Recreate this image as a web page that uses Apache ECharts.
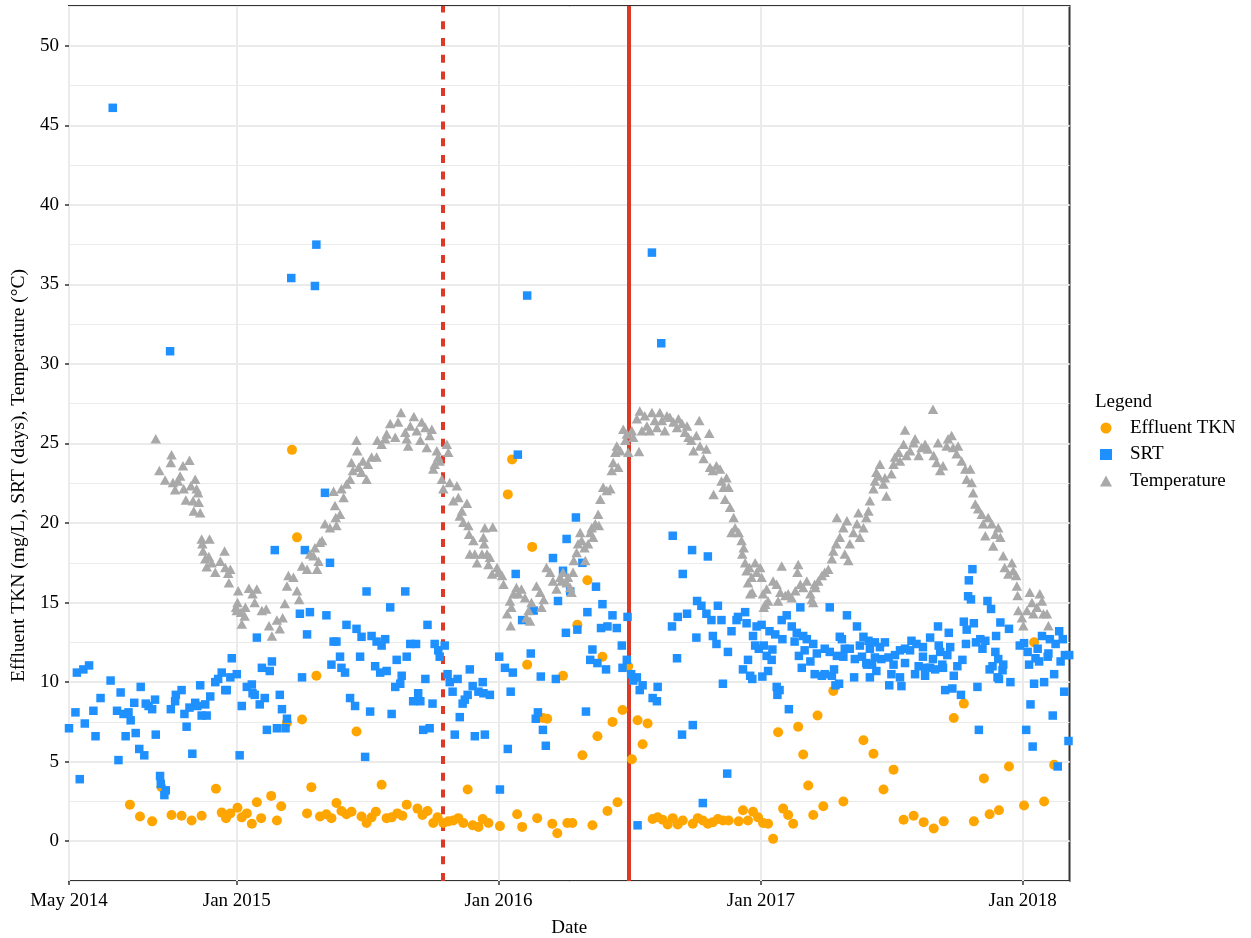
<!DOCTYPE html>
<html><head><meta charset="utf-8">
<script src="https://cdn.jsdelivr.net/npm/echarts@6/dist/echarts.min.js"></script>
<style>html,body{margin:0;padding:0;background:#fff}#chart{width:1251px;height:938px}</style>
</head><body><div id="chart"></div>
<script>
// ---- data ----
const startDate = '2014-05-12';          // first sampling day (left edge of the axis)
const endDay = 1395.4;                   // last day on the axis, counted from startDate
const tickDates = ['2014-05-12', '2015-01-01', '2016-01-01', '2017-01-01', '2018-01-01'];
const yTicks = [0, 5, 10, 15, 20, 25, 30, 35, 40, 45, 50];
const eventDates = ['2015-10-15', '2016-07-01'];
const seriesNames = ['Effluent TKN', 'SRT', 'Temperature'];

// days since startDate, and values
const tknDays = [85,99,116,129,143,157,171,185,205,213,219,225,235,241,248,255,262,268,282,290,296,304,311,318,325,332,338,345,350,359,366,373,380,387,394,401,408,415,422,428,436,443,450,458,465,471,486,493,500,508,514,522,529,536,543,550,556,563,571,577,585,601,612,618,625,632,639,646,653,661,667,674,681,689,695,702,709,716,723,730,737,744,751,758,765,772,780,785,793,800,807,814,821,828,835,842,849,856,870,877,884,891,898,905,912,920,934,940,947,954,961,968,975,982,989,996,1003,1010,1017,1024,1031,1038,1044,1052,1066,1080,1108,1122,1136,1150,1164,1178,1192,1206,1220,1234,1248,1262,1276,1284,1297,1311,1332,1346,1360,1374];
const tknValues = [2.3,1.55,1.25,3.4,1.65,1.6,1.3,1.6,3.3,1.8,1.45,1.75,2.1,1.5,1.75,1.1,2.45,1.45,2.85,1.3,2.2,7.45,24.6,19.1,7.65,1.75,3.4,10.4,1.55,1.7,1.45,2.4,1.9,1.7,1.85,6.9,1.55,1.15,1.5,1.85,3.55,1.45,1.5,1.75,1.6,2.3,2.05,1.65,1.9,1.15,1.5,1.15,1.25,1.3,1.45,1.15,3.25,1.0,0.9,1.4,1.15,0.95,21.8,24.0,1.7,0.9,11.1,18.5,1.45,7.75,7.7,1.1,0.5,10.4,1.15,1.15,13.6,5.4,16.4,1.0,6.6,11.6,1.9,7.5,2.45,8.25,11.0,5.15,7.6,6.1,7.4,1.4,1.5,1.35,1.05,1.45,1.05,1.3,1.1,1.45,1.3,1.1,1.2,1.4,1.3,1.3,1.25,1.95,1.3,1.85,1.5,1.15,1.1,0.15,6.85,2.05,1.65,1.1,7.2,5.45,3.5,1.65,7.9,2.2,9.45,2.5,6.35,5.5,3.25,4.5,1.35,1.6,1.2,0.8,1.25,7.75,8.65,1.25,3.95,1.7,1.95,4.7,2.25,12.5,2.5,4.8];

const srtDays = [0,9,11,15,20,22,28,34,37,44,58,61,67,69,72,76,79,83,86,91,93,98,100,105,107,111,116,120,121,127,128,133,135,141,142,148,149,157,161,164,168,172,176,179,183,185,190,192,197,204,208,213,218,220,225,227,234,238,241,248,255,256,259,262,266,269,273,276,280,283,287,290,294,297,302,304,310,322,325,329,332,336,343,345,357,359,364,366,369,373,378,380,385,387,392,399,401,406,408,413,415,420,422,427,429,434,436,441,443,448,450,455,457,462,464,469,471,476,480,484,487,490,494,497,500,503,507,510,515,517,524,528,531,535,538,542,545,549,552,556,559,563,566,571,577,578,580,587,600,601,608,612,616,619,623,626,632,639,644,648,651,654,658,661,665,675,679,682,689,693,694,699,707,709,716,721,723,727,730,735,737,742,744,749,751,758,764,771,772,778,779,784,787,792,793,796,800,813,814,820,821,826,841,842,848,849,855,856,862,869,870,875,876,882,884,889,891,896,898,903,905,910,912,918,919,924,931,933,940,943,945,947,950,953,954,957,959,962,966,967,969,973,975,977,980,981,985,987,988,991,994,995,1001,1004,1008,1012,1015,1018,1020,1022,1024,1026,1029,1034,1038,1040,1043,1050,1054,1054,1061,1061,1064,1067,1069,1071,1074,1075,1078,1080,1082,1085,1089,1095,1096,1099,1103,1106,1108,1112,1113,1115,1117,1117,1120,1124,1124,1126,1131,1133,1138,1143,1144,1147,1150,1152,1159,1159,1161,1166,1166,1173,1175,1180,1182,1185,1191,1191,1194,1194,1201,1201,1205,1208,1212,1213,1215,1218,1219,1222,1225,1227,1229,1232,1234,1239,1244,1246,1248,1251,1252,1254,1255,1258,1260,1262,1265,1267,1269,1271,1274,1278,1281,1284,1286,1288,1292,1293,1295,1296,1297,1299,1302,1303,1311,1313,1326,1332,1335,1337,1339,1341,1344,1346,1348,1351,1353,1357,1360,1365,1366,1368,1372,1374,1376,1379,1381,1383,1386,1388,1389,1394,1395];
const srtValues = [7.1,8.1,10.6,3.9,10.8,7.4,11.05,8.2,6.6,9.0,10.1,46.1,8.2,5.1,9.35,8.0,6.6,8.1,7.6,8.7,6.8,5.8,9.7,5.4,8.65,8.5,8.3,8.9,6.7,4.1,3.6,2.9,3.2,30.8,8.3,8.8,9.2,9.5,8.0,7.2,8.4,5.5,8.7,8.5,9.8,7.9,8.6,7.9,9.1,10.0,10.2,10.6,9.5,9.5,10.3,11.5,10.5,5.4,8.5,9.7,9.85,9.3,9.2,12.8,8.6,10.9,9.0,7.0,10.7,11.3,18.3,7.1,9.2,8.3,7.1,7.7,35.4,14.3,10.3,18.3,13.0,14.4,34.9,37.5,21.9,14.2,17.5,11.1,12.55,12.55,11.6,10.9,10.6,13.6,9.0,8.5,13.35,11.6,12.85,5.3,15.7,8.15,12.9,11.0,12.55,10.6,12.3,12.7,10.7,14.7,8.0,9.7,11.4,9.9,10.4,15.7,11.6,12.4,8.8,12.4,9.3,8.8,7.0,10.2,13.6,7.1,8.65,12.4,12.0,11.6,12.3,10.5,10.0,9.4,6.7,10.2,7.8,8.65,8.9,9.2,10.8,9.75,6.6,9.4,10.0,9.3,6.7,9.2,11.6,3.25,10.9,5.8,9.4,10.6,16.8,24.3,13.9,34.3,11.8,14.5,7.7,8.1,10.35,7.0,6.0,17.8,10.2,15.1,17.0,13.1,19.0,15.7,20.35,13.3,17.5,8.15,14.4,11.4,12.05,16.0,11.2,13.4,14.9,10.8,13.5,14.2,13.4,12.3,10.9,11.4,14.1,10.5,10.1,10.3,1.0,9.5,9.8,37.0,9.0,8.8,9.7,31.3,13.5,19.2,11.5,14.1,6.7,16.8,14.3,18.3,7.3,12.8,15.1,14.8,2.4,14.3,17.9,13.9,12.9,12.4,14.8,13.9,9.9,4.25,11.9,13.2,13.9,14.1,10.8,14.4,13.7,11.4,10.4,10.2,12.9,12.3,13.5,12.1,13.6,10.35,12.3,11.65,10.7,13.2,11.4,12.05,13.0,9.7,9.2,9.5,13.9,12.7,14.2,8.3,13.5,12.55,13.1,11.65,14.7,10.9,12.9,12.0,12.7,11.3,12.4,10.5,11.8,10.4,12.1,10.5,14.7,11.9,10.4,10.8,9.8,11.65,9.9,12.85,12.7,11.6,12.1,14.2,12.1,10.3,11.45,13.5,12.3,11.6,12.85,11.2,11.1,12.6,12.1,10.3,11.1,12.5,11.55,10.7,12.2,11.45,12.5,11.55,9.8,10.5,11.1,11.7,12.0,10.3,9.75,12.1,11.2,12.0,12.6,10.5,12.4,11.0,12.2,11.6,10.9,10.4,12.8,10.9,11.45,10.8,13.5,12.3,11.9,11.1,10.9,9.5,11.7,13.1,12.2,9.6,10.4,11.0,9.2,11.4,13.8,12.4,13.3,15.4,16.4,15.2,17.1,13.7,12.5,9.7,7.0,12.7,12.1,12.6,15.1,10.8,14.6,11.0,11.9,12.9,10.3,11.45,10.2,13.75,10.75,11.1,13.35,10.0,12.3,12.45,7.0,11.9,11.1,8.6,5.95,9.9,11.5,12.1,11.3,12.9,10.0,11.6,11.8,12.7,7.9,10.5,12.4,4.7,13.2,11.3,12.7,9.4,11.7,6.3,11.7];

const tempDays = [121,126,134,142,143,145,148,152,155,159,160,163,168,170,173,174,176,178,180,181,183,185,186,187,190,192,195,196,199,204,211,217,218,222,223,225,233,234,235,236,240,241,245,246,251,256,259,262,269,275,279,283,290,294,298,301,304,306,313,318,321,325,332,336,341,343,346,348,350,353,357,364,369,371,372,373,378,380,383,387,392,394,396,401,402,404,408,410,415,417,422,429,430,436,441,443,448,455,459,463,469,471,473,476,481,485,490,492,497,499,503,506,508,510,513,515,517,520,522,527,529,531,536,541,543,545,548,550,555,557,558,559,564,566,569,576,578,579,580,583,585,587,590,591,597,599,604,606,611,615,616,617,620,624,627,631,636,638,641,643,645,652,657,659,662,666,671,675,680,685,687,689,694,696,699,701,703,704,708,710,713,715,719,720,724,727,729,731,734,738,739,741,745,750,755,757,759,762,764,766,769,773,776,778,780,785,787,792,795,796,799,803,806,810,813,817,820,824,827,831,834,838,843,848,850,855,859,862,864,868,871,875,879,880,885,889,893,894,898,899,903,908,910,913,915,917,920,922,924,927,929,934,938,939,941,943,945,947,949,950,952,953,957,959,964,966,968,969,971,973,975,982,987,989,992,994,999,1003,1008,1013,1016,1017,1020,1024,1029,1034,1036,1038,1040,1041,1045,1050,1054,1059,1064,1066,1070,1071,1075,1080,1082,1085,1087,1089,1094,1099,1101,1103,1108,1112,1115,1117,1122,1124,1126,1129,1131,1136,1138,1140,1147,1150,1152,1157,1159,1164,1166,1168,1173,1178,1180,1185,1189,1194,1198,1205,1206,1210,1212,1215,1219,1224,1226,1231,1233,1238,1240,1245,1250,1252,1257,1259,1261,1264,1268,1273,1275,1278,1282,1287,1289,1292,1296,1299,1303,1305,1310,1315,1317,1321,1322,1323,1324,1329,1331,1336,1340,1343,1345,1350,1354,1357,1359,1364,1366];
const tempValues = [25.3,23.3,22.7,23.8,24.3,22.55,22.1,22.65,22.95,23.6,22.15,21.45,23.95,22.35,21.4,20.75,22.75,22.15,21.9,21.3,20.65,19.0,18.7,18.25,17.75,17.25,17.9,19.0,17.5,16.9,17.6,18.25,17.2,16.85,16.25,17.1,14.7,14.5,15.0,15.75,14.4,13.65,14.15,14.7,15.9,15.55,15.0,15.85,14.5,14.6,13.55,12.9,13.9,13.35,14.05,14.95,16.05,16.7,16.6,15.75,15.2,17.3,17.1,18.05,17.95,18.45,17.1,17.6,18.8,18.9,19.95,19.7,22.0,21.1,20.35,19.85,20.55,22.15,21.6,22.45,22.75,23.8,23.3,25.2,24.55,23.5,23.2,23.9,22.75,23.7,24.15,24.15,25.2,24.95,25.3,25.6,26.25,25.4,26.35,26.95,25.7,25.3,24.85,26.1,26.7,25.8,25.2,26.35,26.0,24.75,25.5,25.9,23.4,23.7,24.55,24.15,23.9,22.75,22.15,24.95,24.45,22.55,21.4,22.35,21.6,20.45,20.75,20.05,21.25,19.85,19.3,18.05,18.9,18.05,17.5,18.05,19.1,18.7,19.7,18.05,17.4,17.85,16.8,19.75,17.2,16.9,16.7,16.15,14.3,15.1,13.55,14.7,15.55,15.95,15.55,15.85,15.3,14.05,14.5,13.85,15.0,16.05,15.65,14.7,15.2,17.2,16.9,16.35,15.85,16.6,16.35,16.9,16.25,16.6,15.95,15.65,16.9,17.65,18.15,18.7,19.4,18.9,18.45,17.65,18.7,19.4,19.7,19.1,19.95,20.55,19.85,21.5,22.25,22.05,22.15,23.3,23.8,24.45,24.85,23.5,24.55,25.9,25.2,25.6,24.45,25.8,25.4,26.55,24.5,27.05,25.8,26.75,26.1,25.8,26.95,26.45,26.0,26.95,26.45,25.8,26.75,26.65,26.35,26.0,26.55,26.25,25.7,26.1,25.4,25.2,24.55,25.5,26.45,24.85,24.05,24.65,25.65,23.5,23.3,21.8,23.6,23.4,22.65,22.25,21.5,22.85,22.25,21.0,19.4,20.35,19.7,19.4,18.9,18.05,18.45,17.5,17.0,16.25,17.2,15.55,16.6,15.65,17.5,16.9,17.2,16.6,15.55,14.7,14.9,15.85,15.1,16.35,16.15,15.1,15.65,17.3,15.45,15.55,15.3,15.75,16.9,17.4,16.15,15.95,16.35,15.55,15.2,15.0,16.15,15.95,16.35,16.7,16.9,17.1,17.75,18.25,18.7,20.35,19.1,19.7,18.05,20.15,17.65,18.7,19.4,19.95,20.65,19.1,19.7,20.35,20.75,21.4,22.15,22.65,23.2,22.95,23.7,22.45,22.85,21.7,23.1,23.7,24.15,24.45,23.9,24.95,25.85,24.25,24.55,25.05,25.3,24.25,24.75,24.95,24.65,27.15,24.25,23.8,25.05,23.3,23.6,24.85,25.3,25.5,24.75,24.35,24.85,23.9,23.4,22.75,23.4,22.55,21.9,21.2,20.9,20.55,19.95,19.2,20.35,19.95,18.55,19.3,19.7,19.1,17.95,17.2,16.8,17.5,17.0,16.7,16.05,15.45,14.5,14.05,13.55,14.5,15.65,15.0,14.3,14.7,15.55,15.1,14.3,14.3,13.55];

// ---- chart ----
const DAY = 86400000;
const t0 = Date.parse(startDate);
const toPairs = (days, vals) => days.map((d, i) => [t0 + d * DAY, vals[i]]);
const tickTs = tickDates.map(d => Date.parse(d));
const eventTs = eventDates.map(d => Date.parse(d));
const MONTHS = ['Jan','Feb','Mar','Apr','May','Jun','Jul','Aug','Sep','Oct','Nov','Dec'];
const FONT = '"Liberation Serif", "DejaVu Serif", serif';
const RED = '#DC3A27';
const txt = {fontFamily: FONT, fontSize: 19, color: '#000'};

const chart = echarts.init(document.getElementById('chart'), null, {renderer: 'canvas'});
chart.setOption({
  animation: false,
  textStyle: {fontFamily: FONT},
  title: {text: 'Legend', left: 1095, top: 393, padding: 0,
    textStyle: Object.assign({fontWeight: 'normal'}, txt)},
  legend: {orient: 'vertical', left: 1100, top: 418, padding: 0,
    itemWidth: 12, itemHeight: 11, itemGap: 6.5, data: seriesNames,
    textStyle: Object.assign({lineHeight: 20, padding: [0, 0, 0, 13]}, txt), selectedMode: false},
  grid: {left: 69, right: 181.5, top: 6, bottom: 57, show: true, borderColor: '#333', borderWidth: 2,
    outerBoundsMode: 'none', containLabel: false},
  xAxis: {
    type: 'value', min: t0, max: t0 + endDay * DAY,
    axisLine: {show: false, onZero: false},
    axisTick: {show: true, length: 4, customValues: tickTs, lineStyle: {color: '#333', width: 1.5}},
    axisLabel: Object.assign({customValues: tickTs, margin: 11, hideOverlap: false,
      formatter: v => { const d = new Date(v); return MONTHS[d.getUTCMonth()] + ' ' + d.getUTCFullYear(); }}, txt),
    splitLine: {show: true, lineStyle: {color: '#ebebeb', width: 2}},
    name: 'Date', nameLocation: 'middle', nameGap: 38, nameTextStyle: txt
  },
  yAxis: [{
    type: 'value', min: -2.5, max: 52.5,
    axisLine: {show: false, onZero: false},
    axisTick: {show: true, length: 4, customValues: yTicks, lineStyle: {color: '#333', width: 1.5}},
    axisLabel: Object.assign({customValues: yTicks, margin: 10}, txt),
    splitLine: {show: true, lineStyle: {color: '#ebebeb', width: 2}},
    name: 'Effluent TKN (mg/L), SRT (days), Temperature (°C)',
    nameLocation: 'middle', nameGap: 40, nameRotate: 90,
    nameTextStyle: Object.assign({padding: [0, 64, 0, 0]}, txt, {fontSize: 19.5})
  }, {
    type: 'value', min: -2.5, max: 52.5, interval: 2.5, position: 'left',
    axisLine: {show: false, onZero: false}, axisTick: {show: false}, axisLabel: {show: false},
    splitLine: {show: true, lineStyle: {color: '#ebebeb', width: 1}}
  }],
  series: [
    {name: seriesNames[0], type: 'scatter', yAxisIndex: 0, z: 3,
     symbol: 'circle', symbolSize: 10, itemStyle: {color: '#FFA500', opacity: 1},
     emphasis: {disabled: true},
     data: toPairs(tknDays, tknValues),
     markLine: {symbol: 'none', silent: true, z: 2, label: {show: false},
       data: [
         {xAxis: eventTs[0], lineStyle: {color: RED, width: 4, type: [8, 8.7]}},
         {xAxis: eventTs[1], lineStyle: {color: RED, width: 4, type: 'solid'}}
       ]}},
    {name: seriesNames[1], type: 'scatter', yAxisIndex: 0, z: 4,
     symbol: 'rect', symbolSize: 8.5, itemStyle: {color: '#1E90FF', opacity: 1},
     emphasis: {disabled: true},
     data: toPairs(srtDays, srtValues)},
    {name: seriesNames[2], type: 'scatter', yAxisIndex: 0, z: 5,
     symbol: 'triangle', symbolSize: [10.5, 9.5], itemStyle: {color: '#A9A9A9', opacity: 1},
     emphasis: {disabled: true},
     data: toPairs(tempDays, tempValues)}
  ]
});
</script></body></html>
